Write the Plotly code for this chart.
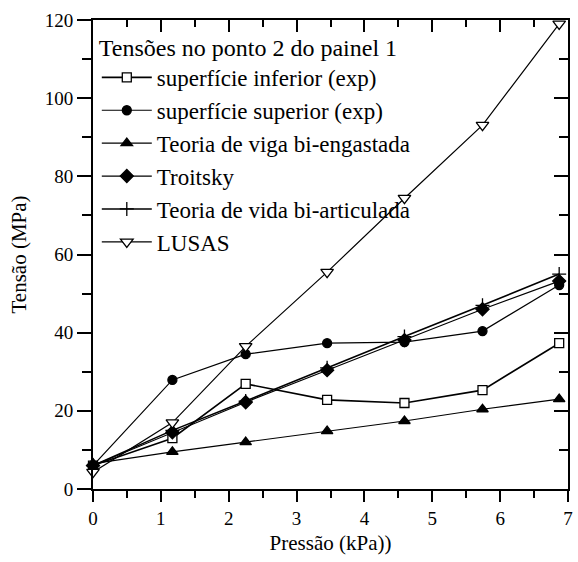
import plotly.graph_objects as go

pressao = [0, 1.17, 2.25, 3.45, 4.59, 5.74, 6.87]
sup_inferior = [6.0, 13.0, 26.9, 22.8, 22.0, 25.3, 37.3]
sup_superior = [6.0, 27.9, 34.5, 37.3, 37.6, 40.4, 52.2]
viga_engastada = [6.5, 9.5, 12.0, 14.8, 17.4, 20.4, 23.0]
troitsky = [6.0, 14.5, 22.2, 30.4, 38.1, 46.0, 53.2]
vida_articulada = [6.0, 15.0, 22.5, 31.0, 39.0, 47.0, 55.0]
lusas = [4.3, 17.0, 36.5, 55.5, 74.4, 93.1, 119.0]

series = [
    ("superfície inferior (exp)", sup_inferior, "square", "white", 9, 1.6),
    ("superfície superior (exp)", sup_superior, "circle", "black", 9, 1.2),
    ("Teoria de viga bi-engastada", viga_engastada, "triangle-up", "black", 10, 1.2),
    ("Troitsky", troitsky, "diamond", "black", 10, 1.2),
    ("Teoria de vida bi-articulada", vida_articulada, "cross-thin", "black", 10, 1.6),
    ("LUSAS", lusas, "triangle-down", "white", 11, 1.2),
]

fig = go.Figure()
for name, vals, sym, fill, size, lw in series:
    fig.add_trace(go.Scatter(
        x=pressao, y=vals, name=name, mode="lines+markers",
        line=dict(color="black", width=lw),
        marker=dict(symbol=sym, size=size, color=fill,
                    line=dict(color="black", width=1.3)),
        cliponaxis=False,
    ))

font = "Times New Roman, Liberation Serif, Times, serif"
fig.update_layout(
    width=578, height=562,
    margin=dict(l=93, r=5, t=20, b=73),
    paper_bgcolor="white", plot_bgcolor="white",
    font=dict(family=font, size=18, color="black"),
    showlegend=True,
    legend=dict(
        title=dict(text="Tensões no ponto 2 do painel 1", font=dict(family=font, size=24, color="black")),
        font=dict(family=font, size=23, color="black"), x=0.008, y=0.99, xanchor="left", yanchor="top",
        bgcolor="rgba(0,0,0,0)", tracegroupgap=0, itemwidth=50,
    ),
    xaxis=dict(
        range=[0, 7], dtick=1, showgrid=False, zeroline=False,
        showline=True, linecolor="black", linewidth=2,
        ticks="outside", ticklen=11, tickwidth=2, tickcolor="black",
        minor=dict(dtick=0.5, ticks="outside", ticklen=7, tickwidth=2, tickcolor="black"),
        tickfont=dict(family=font, size=19, color="black"), ticklabeloverflow="allow",
        title=dict(text="Pressão (kPa))", font=dict(family=font, size=21, color="black"), standoff=8),
    ),
    yaxis=dict(
        range=[0, 120], dtick=20, showgrid=False, zeroline=False,
        showline=True, linecolor="black", linewidth=2,
        ticks="outside", ticklen=14, tickwidth=2, tickcolor="black",
        minor=dict(dtick=10, ticks="outside", ticklen=9, tickwidth=2, tickcolor="black"),
        tickfont=dict(family=font, size=19, color="black"),
        title=dict(text="Tensão (MPa)", font=dict(family=font, size=21, color="black"), standoff=12),
    ),
    xaxis2=dict(
        range=[0, 7], dtick=1, overlaying="x", side="top",
        showgrid=False, zeroline=False, showline=True, linecolor="black", linewidth=2,
        ticks="inside", ticklen=12, tickwidth=2, tickcolor="black", showticklabels=False,
        minor=dict(dtick=0.5, ticks="inside", ticklen=7, tickwidth=2, tickcolor="black"),
    ),
    yaxis2=dict(
        range=[0, 120], dtick=20, overlaying="y", side="right",
        showgrid=False, zeroline=False, showline=True, linecolor="black", linewidth=2,
        ticks="inside", ticklen=14, tickwidth=2, tickcolor="black", showticklabels=False,
        minor=dict(dtick=10, ticks="inside", ticklen=9, tickwidth=2, tickcolor="black"),
    ),
)
fig.add_trace(go.Scatter(x=[0, 7], y=[0, 120], xaxis="x2", yaxis="y2", mode="markers",
                         marker=dict(opacity=0), showlegend=False, hoverinfo="skip"))

fig.write_html("out.html", config={"displayModeBar": False})

# remove default page margin so the figure fills the window exactly
with open("out.html", encoding="utf-8") as f:
    html = f.read()
html = html.replace("<body>", '<body style="margin:0;padding:0;overflow:hidden">', 1)
with open("out.html", "w", encoding="utf-8") as f:
    f.write(html)
